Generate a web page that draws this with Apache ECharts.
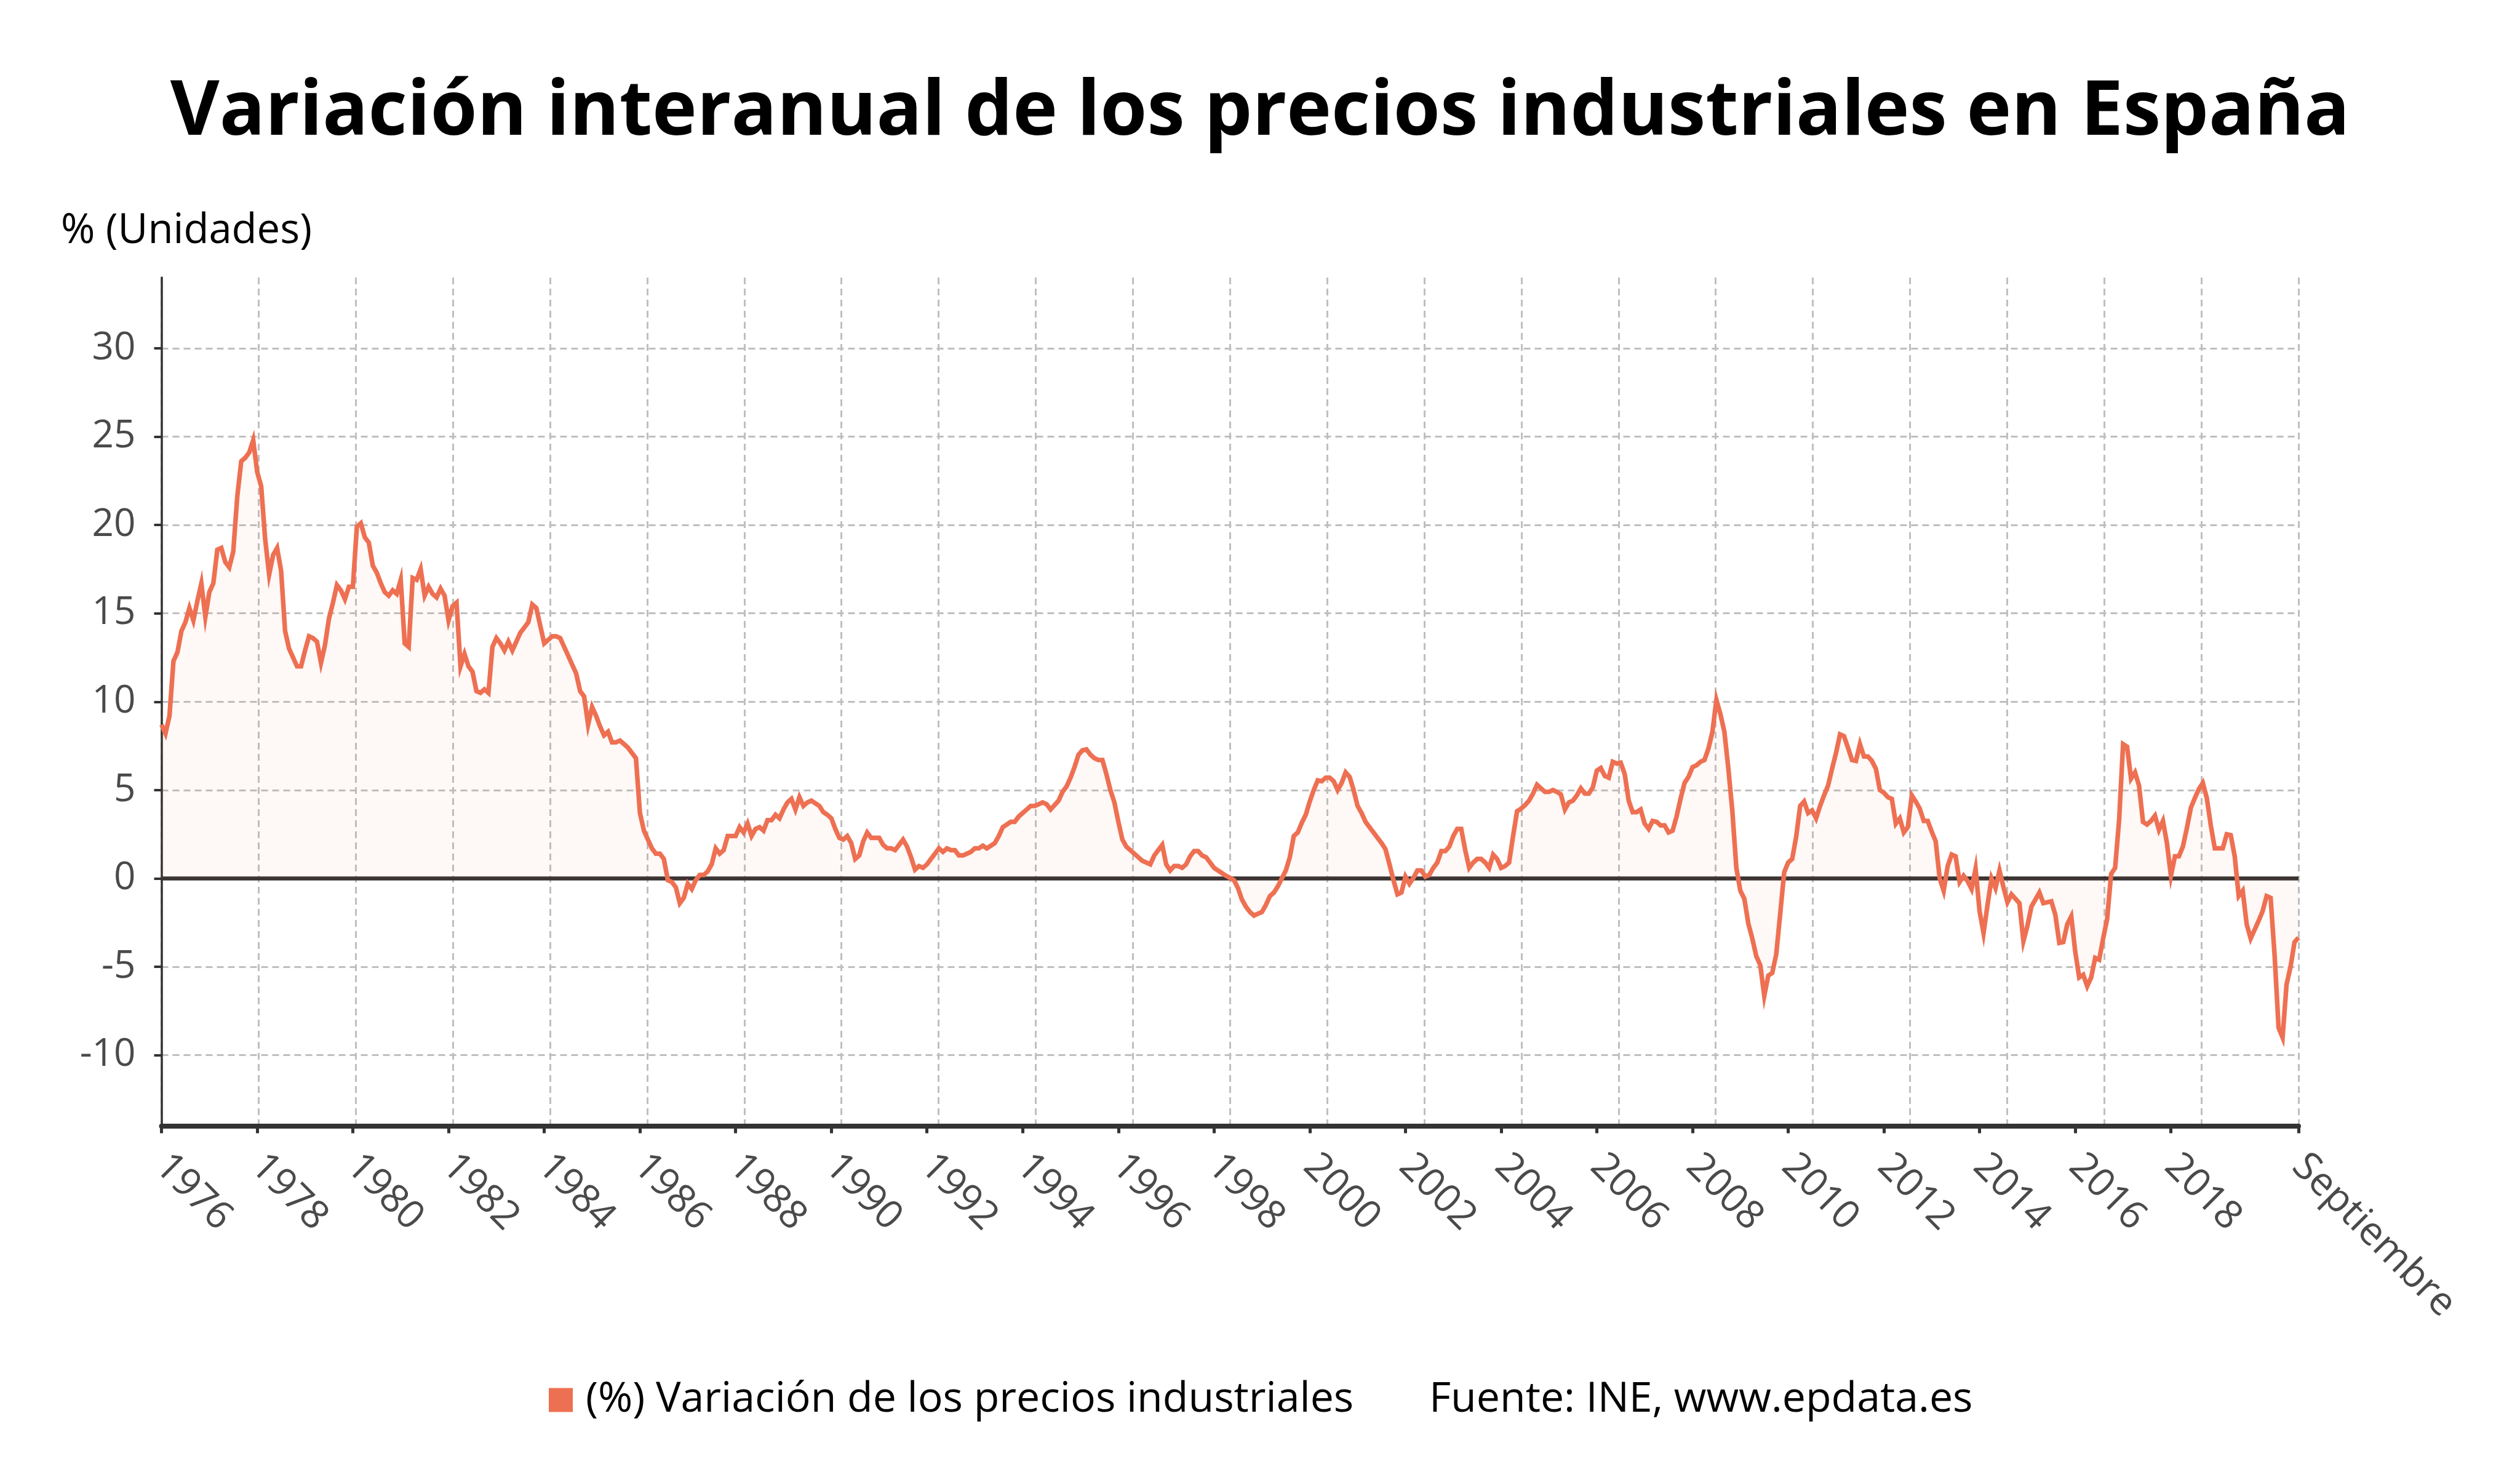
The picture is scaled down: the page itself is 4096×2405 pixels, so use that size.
<!DOCTYPE html>
<html>
<head>
<meta charset="utf-8">
<script src="https://cdn.jsdelivr.net/npm/echarts@6/dist/echarts.min.js"></script>
<style>
html,body{margin:0;padding:0;background:#fff;}
#chart{width:4096px;height:2405px;}
</style>
</head>
<body>
<div id="chart"></div>
<script>
// ---- Data (monthly % year-on-year change, Jan 1976 - Sep 2020) ----
const v1976_1985 = [
  8.7, 8.2, 9.2, 12.3, 12.8, 14.0, 14.5, 15.3, 14.6, 15.7, 16.7, 14.8,
  16.2, 16.7, 18.6, 18.7, 17.9, 17.6, 18.5, 21.6, 23.6, 23.8, 24.1, 24.8,
  23.0, 22.2, 19.2, 17.2, 18.3, 18.7, 17.4, 14.0, 13.0, 12.5, 12.0, 12.0,
  12.9, 13.7, 13.6, 13.4, 12.2, 13.2, 14.7, 15.6, 16.6, 16.3, 15.8, 16.5,
  16.5, 19.9, 20.1, 19.3, 19.0, 17.7, 17.3, 16.7, 16.2, 16.0, 16.3, 16.1,
  16.9, 13.3, 13.1, 17.0, 16.9, 17.5, 16.0, 16.5, 16.1, 15.9, 16.4, 16.0,
  14.6, 15.4, 15.6, 12.0, 12.7, 12.0, 11.7, 10.6, 10.5, 10.7, 10.5, 13.1,
  13.6, 13.3, 12.9, 13.4, 12.9, 13.4, 13.9, 14.2, 14.5, 15.5, 15.3, 14.3,
  13.3, 13.5, 13.7, 13.7, 13.6, 13.1, 12.6, 12.1, 11.6, 10.6, 10.3, 8.7,
  9.7, 9.2, 8.6, 8.1, 8.3, 7.7, 7.7, 7.8, 7.6, 7.4, 7.1, 6.8
];
const v1986_1995 = [
  3.7, 2.7, 2.2, 1.7, 1.4, 1.4, 1.1, -0.1, -0.2, -0.5, -1.4, -1.1,
  -0.3, -0.6, -0.1, 0.2, 0.2, 0.4, 0.8, 1.7, 1.4, 1.6, 2.4, 2.4,
  2.4, 2.9, 2.6, 3.1, 2.4, 2.8, 2.9, 2.7, 3.3, 3.3, 3.6, 3.4,
  3.9, 4.3, 4.5, 3.9, 4.6, 4.1, 4.3, 4.4, 4.25, 4.1, 3.75, 3.6,
  3.4, 2.8, 2.3, 2.2, 2.4, 2.0, 1.1, 1.3, 2.1, 2.6, 2.3, 2.3,
  2.3, 1.9, 1.7, 1.7, 1.6, 1.9, 2.2, 1.8, 1.2, 0.5, 0.7, 0.6,
  0.8, 1.1, 1.4, 1.7, 1.5, 1.7, 1.6, 1.6, 1.3, 1.3, 1.4, 1.5,
  1.7, 1.7, 1.85, 1.7, 1.85, 2.0, 2.4, 2.9, 3.05, 3.2, 3.2, 3.5,
  3.7, 3.9, 4.1, 4.1, 4.2, 4.3, 4.2, 3.9, 4.15, 4.4, 4.9, 5.2,
  5.7, 6.3, 7.0, 7.25, 7.3, 7.0, 6.8, 6.7, 6.7, 5.9, 5.0, 4.3
];
const v1996_2005 = [
  3.2, 2.2, 1.8, 1.6, 1.4, 1.2, 1.0, 0.9, 0.8, 1.3, 1.6, 1.9,
  0.8, 0.45, 0.7, 0.7, 0.6, 0.8, 1.25, 1.55, 1.55, 1.3, 1.2, 0.9,
  0.6, 0.45, 0.3, 0.15, 0.03, -0.1, -0.55, -1.2, -1.6, -1.9, -2.1, -2.0,
  -1.9, -1.5, -1.0, -0.8, -0.45, 0.0, 0.45, 1.2, 2.4, 2.6, 3.15, 3.6,
  4.35, 5.0, 5.55, 5.5, 5.7, 5.7, 5.5, 5.0, 5.4, 6.0, 5.75, 5.0,
  4.1, 3.7, 3.2, 2.9, 2.6, 2.3, 2.0, 1.65, 0.8, -0.1, -0.9, -0.8,
  0.1, -0.3, 0.03, 0.45, 0.45, 0.1, 0.2, 0.6, 0.9, 1.55, 1.55, 1.8,
  2.4, 2.8, 2.8, 1.6, 0.6, 0.9, 1.1, 1.1, 0.9, 0.6, 1.35, 1.1,
  0.6, 0.7, 0.9, 2.4, 3.8, 3.95, 4.15, 4.4, 4.8, 5.3, 5.1, 4.9,
  4.9, 5.0, 4.9, 4.75, 3.9, 4.3, 4.4, 4.7, 5.1, 4.8, 4.8, 5.15
];
const v2006_2015 = [
  6.1, 6.25, 5.8, 5.7, 6.6, 6.5, 6.55, 5.9, 4.4, 3.75, 3.75, 3.9,
  3.1, 2.8, 3.25, 3.2, 3.0, 3.0, 2.6, 2.7, 3.5, 4.5, 5.4, 5.75,
  6.3, 6.4, 6.6, 6.7, 7.35, 8.3, 10.1, 9.3, 8.3, 6.2, 3.8, 0.6,
  -0.7, -1.15, -2.55, -3.4, -4.4, -4.9, -6.65, -5.5, -5.35, -4.3, -2.0, 0.35,
  0.9, 1.1, 2.35, 4.1, 4.35, 3.7, 3.85, 3.4, 4.1, 4.7, 5.25, 6.2,
  7.1, 8.15, 8.05, 7.4, 6.7, 6.65, 7.6, 6.9, 6.9, 6.65, 6.2, 5.0,
  4.85, 4.6, 4.5, 3.1, 3.4, 2.6, 2.9, 4.7, 4.35, 3.95, 3.25, 3.25,
  2.65, 2.1, 0.0, -0.7, 0.7, 1.35, 1.25, -0.2, 0.15, -0.15, -0.6, 0.55,
  -1.85, -3.1, -1.5, 0.0, -0.55, 0.45, -0.5, -1.35, -0.9, -1.15, -1.4, -3.55,
  -2.7, -1.6, -1.2, -0.8, -1.4, -1.35, -1.3, -2.05, -3.65, -3.6, -2.6, -2.15
];
const v2016_2020 = [
  -4.15, -5.6, -5.45, -6.1, -5.6, -4.5, -4.6, -3.4, -2.3, 0.25, 0.6, 3.3,
  7.6, 7.45, 5.65, 6.0, 5.25, 3.2, 3.05, 3.25, 3.55, 2.75, 3.25, 2.0,
  0.15, 1.25, 1.25, 1.8, 2.85, 4.0, 4.55, 5.05, 5.4, 4.55, 3.0, 1.7,
  1.7, 1.7, 2.5, 2.45, 1.25, -1.0, -0.7, -2.6, -3.4, -2.9, -2.4, -1.85,
  -1.0, -1.1, -4.35, -8.45, -9.0, -6.0, -5.0, -3.6, -3.35
];
const seriesName = '(%) Variación de los precios industriales';
const xTickLabels = ['1976','1978','1980','1982','1984','1986','1988','1990','1992','1994','1996','1998','2000','2002','2004','2006','2008','2010','2012','2014','2016','2018','Septiembre'];
const yTickValues = [-10, -5, 0, 5, 10, 15, 20, 25, 30];
const zeroLine = [[0, 0], [22, 0]];

const values = [].concat(v1976_1985, v1986_1995, v1996_2005, v2006_2015, v2016_2020);
const categories = [];
for (let i = 0; i < values.length; i++) {
  const y = 1976 + Math.floor(i / 12), m = (i % 12) + 1;
  categories.push(y + '-' + (m < 10 ? '0' + m : m));
}
const lastIdx = values.length - 1;
const labelAt = {};
xTickLabels.forEach(function (t) {
  const idx = (t === 'Septiembre') ? lastIdx : (parseInt(t, 10) - 1976) * 12;
  labelAt[idx] = t;
});
const showTick = function (idx) { return labelAt.hasOwnProperty(idx); };

const FONT = '"Open Sans", "Noto Sans", sans-serif';
const chart = echarts.init(document.getElementById('chart'), null, {renderer: 'canvas'});
chart.setOption({
  backgroundColor: '#ffffff',
  animation: false,
  textStyle: {fontFamily: FONT},
  grid: {left: 262.5, right: 360, top: 451, bottom: 575.5, containLabel: false},
  graphic: [
    {type: 'text', left: 'center', top: 122, style: {text: 'Variación interanual de los precios industriales en España', fontFamily: FONT, fontWeight: 'bold', fontSize: 123, fill: '#000'}},
    {type: 'text', x: 99, y: 376, style: {text: '% (Unidades)', fontFamily: FONT, fontSize: 67, fill: '#000', textVerticalAlign: 'middle'}},
    {type: 'text', x: 2323, y: 2275, style: {text: 'Fuente: INE, www.epdata.es', fontFamily: FONT, fontSize: 68, fill: '#000', textVerticalAlign: 'middle'}}
  ],
  legend: {
    data: [seriesName],
    left: 887, top: 2236,
    icon: 'rect', itemWidth: 39, itemHeight: 39, itemGap: 20,
    textStyle: {fontFamily: FONT, fontSize: 68, color: '#000', padding: [0, 0, 0, 16]}
  },
  xAxis: [
    {
      type: 'category', data: categories, boundaryGap: false,
      axisLine: {onZero: false, lineStyle: {color: '#333333', width: 8}},
      axisTick: {show: true, interval: function (idx) { return showTick(idx); }, length: 12, lineStyle: {color: '#333333', width: 5}},
      axisLabel: {
        interval: function (idx) { return showTick(idx); },
        formatter: function (val, idx) { return labelAt[idx] || ''; },
        rotate: -45, margin: 56, fontFamily: FONT, fontSize: 64, color: '#4a4a4a'
      },
      splitLine: {show: false}
    },
    {
      type: 'value', min: 0, max: 22, interval: 1, position: 'bottom',
      axisLine: {show: false, onZero: false}, axisTick: {show: false}, axisLabel: {show: false},
      splitLine: {show: true, lineStyle: {color: '#bfbfbf', width: 3, type: [11, 7]}}
    }
  ],
  yAxis: {
    type: 'value', min: -14, max: 34,
    axisLine: {show: true, lineStyle: {color: '#333333', width: 3.5}},
    axisTick: {show: true, customValues: yTickValues, length: 12, lineStyle: {color: '#333333', width: 4}},
    axisLabel: {customValues: yTickValues, margin: 42, fontFamily: FONT, fontSize: 62, color: '#4a4a4a'},
    splitLine: {show: true, lineStyle: {color: '#bfbfbf', width: 3, type: [11, 7]}}
  },
  series: [
    {
      name: 'zero', type: 'line', xAxisIndex: 1, data: zeroLine, symbol: 'none', silent: true, z: 3,
      lineStyle: {color: '#383333', width: 6.5}
    },
    {
      name: seriesName, type: 'line', xAxisIndex: 0, data: values, symbol: 'none', z: 4,
      color: '#ee7052',
      lineStyle: {color: '#ee7052', width: 7.5, join: 'miter'},
      areaStyle: {color: 'rgba(238,112,82,0.075)'}
    }
  ]
});
</script>
</body>
</html>
